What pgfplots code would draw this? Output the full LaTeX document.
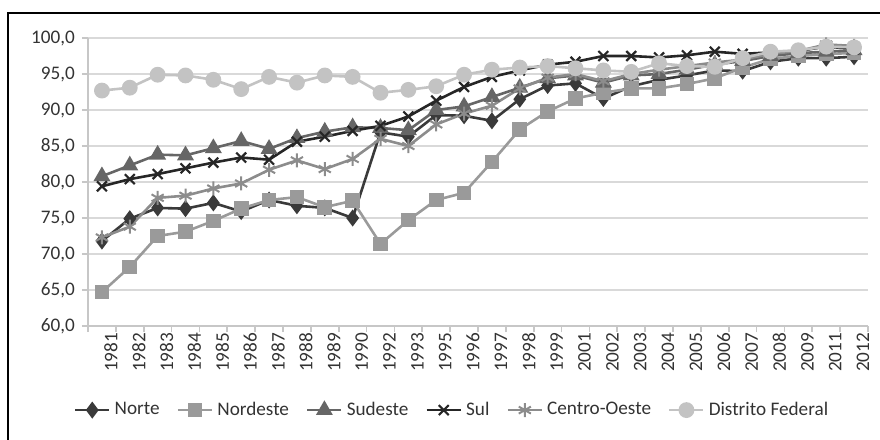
\documentclass[border=0pt]{standalone}
\usepackage{pgfplots}
\pgfplotsset{compat=1.18}
\usepackage{pgfplotstable}
\usepackage{fontspec}
\setmainfont{Carlito}
\definecolor{cN}{HTML}{3A3A3A}
\definecolor{cNE}{HTML}{9A9A9A}
\definecolor{cSE}{HTML}{666666}
\definecolor{cS}{HTML}{262626}
\definecolor{cCO}{HTML}{8C8C8C}
\definecolor{cDF}{HTML}{C3C3C3}
\definecolor{gridc}{HTML}{D9D9D9}
\pgfplotstableread{
x N NE SE S CO DF
0 71.8 64.7 80.8 79.4 72.3 92.7
1 74.9 68.2 82.3 80.4 73.8 93.1
2 76.4 72.5 83.8 81.1 77.8 94.9
3 76.3 73.1 83.7 81.9 78.1 94.8
4 77.1 74.6 84.7 82.7 79.1 94.2
5 75.9 76.3 85.7 83.4 79.8 92.9
6 77.5 77.5 84.6 83.1 81.7 94.6
7 76.7 77.9 86.1 85.6 83.0 93.8
8 76.4 76.5 87.0 86.3 81.8 94.8
9 75.0 77.4 87.6 87.1 83.2 94.6
10 86.9 71.4 87.5 87.8 86.0 92.4
11 86.3 74.7 87.2 89.1 85.0 92.8
12 89.3 77.5 90.0 91.3 88.0 93.3
13 89.2 78.5 90.5 93.2 89.5 94.9
14 88.5 82.8 91.8 94.6 90.6 95.6
15 91.5 87.3 93.1 95.5 93.0 95.9
16 93.4 89.8 94.4 96.3 94.5 96.1
17 93.7 91.6 94.8 96.7 95.0 95.8
18 91.6 92.4 93.8 97.5 94.0 95.5
19 93.3 93.0 94.8 97.5 95.0 95.3
20 94.2 93.0 95.0 97.3 95.6 96.5
21 94.8 93.6 95.6 97.6 96.1 96.1
22 95.5 94.4 96.3 98.1 96.6 96.0
23 95.4 95.9 96.8 97.8 97.0 97.2
24 96.7 97.1 97.5 98.0 97.8 98.1
25 97.2 97.5 97.9 98.2 98.2 98.3
26 97.2 97.8 98.1 98.8 99.1 98.8
27 97.4 97.9 98.3 98.5 98.9 98.7
}\data
\begin{document}
\begin{tikzpicture}
\useasboundingbox (0,0) rectangle (440pt,220pt);
\draw[line width=1.3pt] (4pt,-10pt) -- (4pt,213.5pt) -- (460pt,213.5pt);
\begin{axis}[
  at={(44pt,57pt)}, anchor=south west,
  scale only axis, width=390pt, height=144pt,
  xmin=-0.5, xmax=27.5, ymin=60, ymax=100,
  xtick={0,...,27},
  xticklabels={1981,1982,1983,1984,1985,1986,1987,1988,1989,1990,1992,1993,1995,1996,1997,1998,1999,2001,2002,2003,2004,2005,2006,2007,2008,2009,2011,2012},
  ytick={60,65,...,100},
  minor xtick={-0.5,0.5,...,27.5},
  minor ytick={60,65,...,100},
  major tick length=0pt, minor tick length=3pt, tick align=outside,
  tick style={draw=gridc!80!gray, line width=0.8pt},
  ymajorgrids, grid style={draw=gridc, line width=1pt},
  axis x line*=bottom, axis y line*=left,
  axis line style={-, draw=gridc!80!gray, line width=1pt},
  tick label style={font=\fontsize{9.6}{11}\selectfont, text=black!80},
  xticklabel style={rotate=90, anchor=east, yshift=-4.5pt},
  yticklabel style={xshift=-3pt},
  /pgf/number format/.cd, fixed, fixed zerofill, precision=1, use comma, 1000 sep={}, assume math mode=true,
  /pgfplots/.cd,
  legend style={at={(0.468,-0.292)}, anchor=center, legend columns=-1, draw=none, fill=none,
    font=\fontsize{9.6}{11}\selectfont, text=black!80,
    /tikz/every even column/.append style={column sep=6.5pt}},
  every axis plot/.append style={line width=1.3pt},
  clip=false,
]
\addplot[color=cN, mark=diamond*, mark size=3.2pt, mark options={fill=cN}] table[x=x,y=N]{\data};
\addplot[color=cNE, mark=square*, mark size=3pt, mark options={fill=cNE}] table[x=x,y=NE]{\data};
\addplot[color=cSE, mark=triangle*, mark size=3.6pt, mark options={fill=cSE}] table[x=x,y=SE]{\data};
\addplot[color=cS, mark=x, mark size=3.5pt, mark options={line width=1.1pt}] table[x=x,y=S]{\data};
\addplot[color=cCO, mark=asterisk, mark size=3.5pt, mark options={line width=1pt}] table[x=x,y=CO]{\data};
\addplot[color=cDF, mark=*, mark size=3.3pt, mark options={fill=cDF}] table[x=x,y=DF]{\data};
\legend{Norte,Nordeste,Sudeste,Sul,Centro-Oeste,Distrito Federal}
\end{axis}
\end{tikzpicture}
\end{document}
